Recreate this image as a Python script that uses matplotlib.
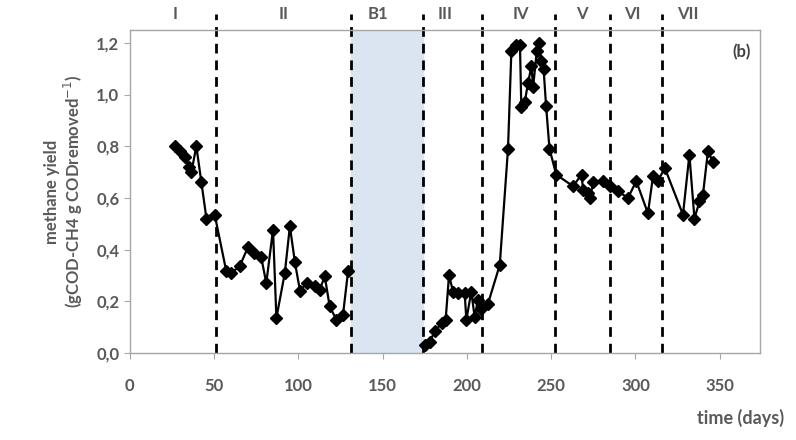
import matplotlib.pyplot as plt
import numpy as np
from matplotlib.ticker import FuncFormatter

plt.rcParams['font.family'] = ['Lato', 'DejaVu Sans']

# methane yield over time (days)
days = [27, 29.7, 32.6, 35, 36.6, 39.5, 42.5, 45.5, 50.4, 57.3, 60.3, 65.2,
        70.2, 74, 78, 81, 85, 87, 92, 95, 98, 101, 105, 110, 112.7, 115.7,
        118.6, 122.6, 126.5, 129.5,
        175, 178, 181, 185, 187.4, 189.4, 191.8, 194.7, 198.7, 199.7, 202.6,
        204.6, 206.6, 208.6, 212.5, 219.5,
        224.4, 226.4, 229.3, 231.5, 232.3, 234.3, 236.3, 238.3, 239.3, 241.5,
        242.8, 244.2, 245.5, 247, 249, 253,
        263, 268, 269, 272, 273, 275, 281, 285, 289.6, 295.6, 300.5, 307.4,
        310.4, 313.4, 317.4, 328.2, 332, 335, 338, 340, 343, 346]
yield_ = [0.80, 0.78, 0.76, 0.72, 0.70, 0.80, 0.66, 0.52, 0.535, 0.315, 0.31,
          0.335, 0.41, 0.385, 0.37, 0.27, 0.477, 0.135, 0.31, 0.49, 0.35, 0.24,
          0.27, 0.257, 0.245, 0.296, 0.18, 0.128, 0.147, 0.315,
          0.03, 0.044, 0.083, 0.115, 0.128, 0.30, 0.237, 0.23, 0.23, 0.128,
          0.237, 0.14, 0.205, 0.17, 0.19, 0.34,
          0.79, 1.17, 1.19, 1.19, 0.95, 0.97, 1.045, 1.11, 1.03, 1.17,
          1.20, 1.13, 1.10, 0.955, 0.79, 0.69,
          0.645, 0.69, 0.63, 0.62, 0.60, 0.66, 0.665, 0.645, 0.625, 0.60,
          0.665, 0.54, 0.683, 0.665, 0.716, 0.535, 0.767, 0.52, 0.586, 0.61,
          0.78, 0.74]

# phase boundaries and labels
phase_bounds = [51, 131.5, 174, 209, 252, 284.7, 315.5]
phase_names = ['I', 'II', 'B1', 'III', 'IV', 'V', 'VI', 'VII']
phase_label_x = [27, 91, 147, 187, 232, 268, 298, 331]
blank_start, blank_end = 131.5, 174

grey = '#595959'

fig = plt.figure(figsize=(7.96, 4.40), dpi=100)
ax = fig.add_axes([0.163, 0.198, 0.792, 0.734])

ax.axvspan(blank_start, blank_end, color='#dbe5f1', zorder=0)
for xb in phase_bounds:
    ax.plot([xb, xb], [0, 1.31], color='black', lw=2, ls=(0, (3.5, 2.5)),
            clip_on=False, zorder=1)

# no measurements during the blank period, so draw the two runs apart
d = np.array(days)
y = np.array(yield_)
for m in (d < blank_start, d > blank_end):
    ax.plot(d[m], y[m], color='black', lw=1.6, marker='D', ms=6.5, zorder=3)

for name, xl in zip(phase_names, phase_label_x):
    ax.text(xl, 1.28, name, ha='center', va='bottom', fontsize=12,
            fontweight='bold', color=grey)

ax.text(0.985, 0.955, '(b)', transform=ax.transAxes, ha='right', va='top',
        fontsize=12, fontweight='bold', color='#404040')

ax.set_xlim(0, 374)
ax.set_ylim(0, 1.25)
ax.set_xticks([0, 50, 100, 150, 200, 250, 300, 350])
ax.set_yticks([0, 0.2, 0.4, 0.6, 0.8, 1.0, 1.2])
ax.yaxis.set_major_formatter(FuncFormatter(lambda v, p: f'{v:.1f}'.replace('.', ',')))

for sp in ax.spines.values():
    sp.set_color('#a6a6a6')
    sp.set_linewidth(1)
ax.tick_params(colors='#a6a6a6', labelcolor=grey, labelsize=12, length=4)
ax.tick_params(axis='x', pad=14)
for lbl in ax.get_xticklabels() + ax.get_yticklabels():
    lbl.set_fontweight('bold')

ax.set_ylabel('methane yield\n(gCOD-CH4 g CODremoved$^{-1}$)', fontsize=12,
              fontweight='bold', color=grey, labelpad=8, linespacing=1.1)
fig.text(0.985, 0.03, 'time (days)', ha='right', va='bottom', fontsize=13,
         fontweight='bold', color=grey)

fig.savefig('out.png', dpi=100)
